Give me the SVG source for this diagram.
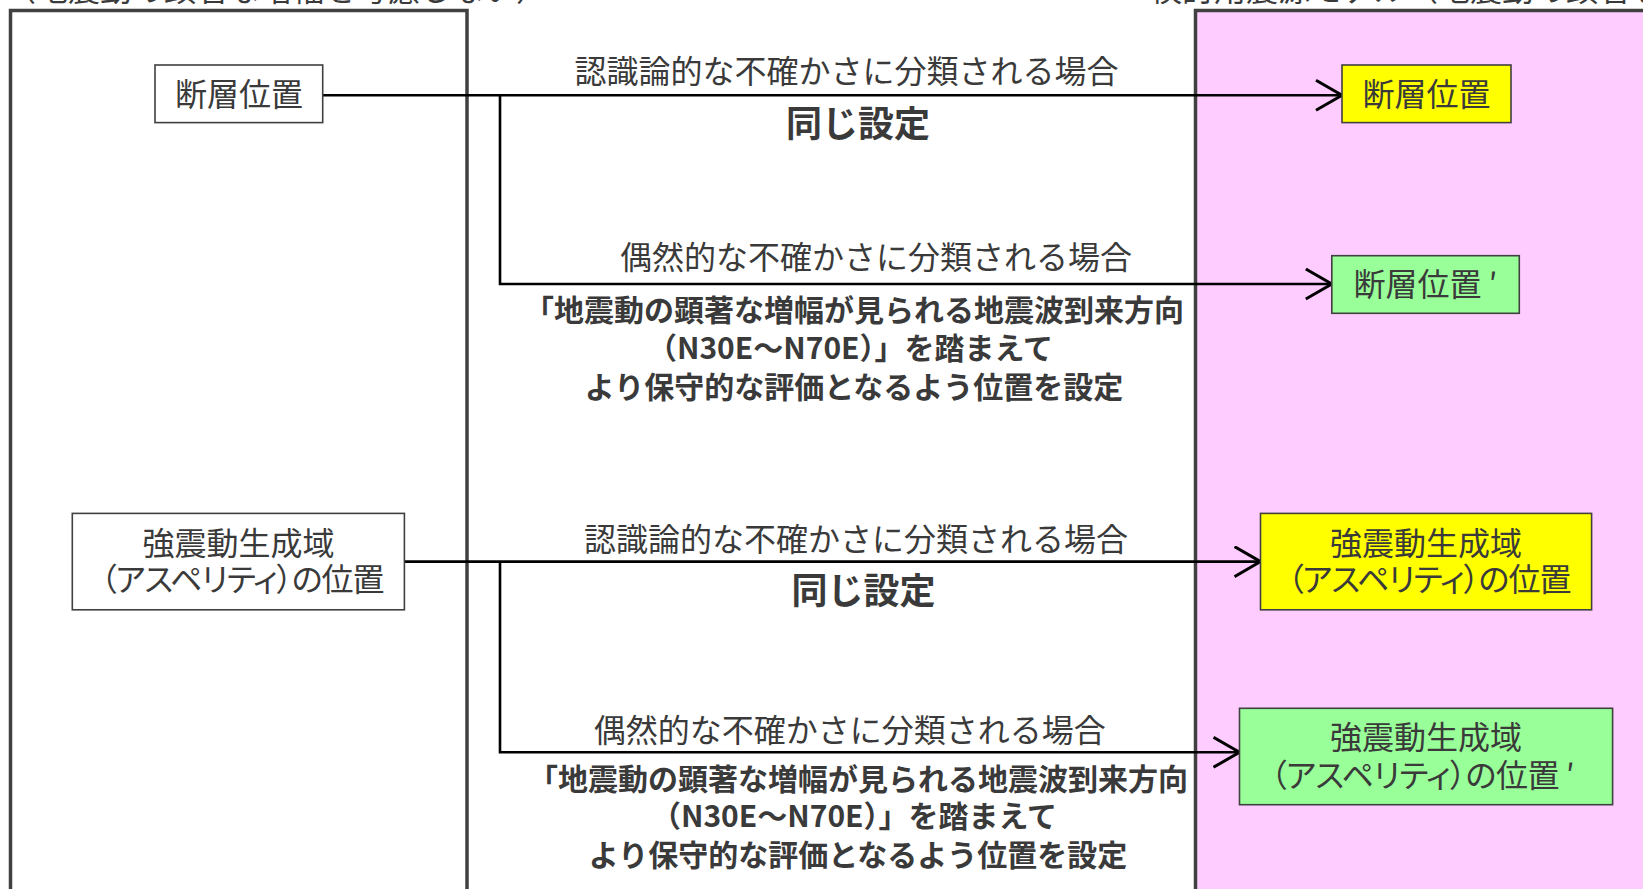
<svg xmlns="http://www.w3.org/2000/svg" width="1643" height="889" viewBox="0 0 1643 889">
<defs>
<style>
text{font-family:"Noto Sans CJK JP","Noto Sans",sans-serif;fill:#3a3a3a}
.r{font-size:32px;text-anchor:middle}
.p{font-feature-settings:"palt"}
.b{font-size:30px;font-weight:bold;text-anchor:middle}
.bb{font-size:36px;font-weight:bold;text-anchor:middle}
.t{font-size:32px}
.panel{stroke:#404040;stroke-width:3.5}
.box{stroke:#404040;stroke-width:1.6}
.c{fill:none;stroke:#000;stroke-width:2.6}
</style>
<marker id="arr" markerWidth="30" markerHeight="34" refX="27" refY="16" orient="auto" markerUnits="userSpaceOnUse">
<path d="M1,1 L27,16 L1,31" fill="none" stroke="#000" stroke-width="3"/>
</marker>
</defs>
<rect width="1643" height="889" fill="#fff"/>
<g id="panel-left">
<rect class="panel" x="10.5" y="10.5" width="456.5" height="900" fill="#fff"/>
<text class="t" x="548" y="1" text-anchor="end">基本震源モデル（地震動の顕著な増幅を考慮しない）</text>
</g>
<g id="panel-right">
<rect class="panel" x="1195.5" y="10.5" width="500" height="900" fill="#ffccff"/>
<text class="t" x="1150" y="1">検討用震源モデル（地震動の顕著な増幅を考慮）</text>
</g>
<g id="connectors">
<path class="c" d="M322.7,95.3 H1342" marker-end="url(#arr)"/>
<path class="c" d="M500,95.3 V284 H1331.8" marker-end="url(#arr)"/>
<path class="c" d="M404.4,561.6 H1260.5" marker-end="url(#arr)"/>
<path class="c" d="M500,561.6 V752.3 H1239.5" marker-end="url(#arr)"/>
</g>
<g id="labels">
<text class="r" x="846.6" y="82.8">認識論的な不確かさに分類される場合</text>
<text class="bb" x="858" y="137">同じ設定</text>
<text class="r" x="876" y="268.5">偶然的な不確かさに分類される場合</text>
<text class="b" x="854" y="321">「地震動の顕著な増幅が見られる地震波到来方向</text>
<text class="b" x="850" y="359">（N30E～N70E）」を踏まえて</text>
<text class="b" x="854" y="397.6">より保守的な評価となるよう位置を設定</text>
<text class="r" x="856" y="551.4">認識論的な不確かさに分類される場合</text>
<text class="bb" x="863.4" y="604.3">同じ設定</text>
<text class="r" x="849.8" y="742.1">偶然的な不確かさに分類される場合</text>
<text class="b" x="858" y="789.6">「地震動の顕著な増幅が見られる地震波到来方向</text>
<text class="b" x="854" y="827.3">（N30E～N70E）」を踏まえて</text>
<text class="b" x="858" y="866">より保守的な評価となるよう位置を設定</text>
</g>
<g id="node-fault-base">
<rect class="box" x="155" y="65" width="167.7" height="57.6" fill="#fff"/>
<text class="r" x="239" y="106">断層位置</text>
</g>
<g id="node-fault-same">
<rect class="box" x="1342" y="65" width="169" height="57.6" fill="#ffff00"/>
<text class="r" x="1426.5" y="106">断層位置</text>
</g>
<g id="node-fault-prime">
<rect class="box" x="1331.8" y="255.7" width="187.5" height="57.6" fill="#99ff99"/>
<text class="r" x="1425.5" y="296">断層位置 ′</text>
</g>
<g id="node-asp-base">
<rect class="box" x="72.3" y="513.4" width="332.1" height="96.4" fill="#fff"/>
<text class="r" x="238.4" y="554.6">強震動生成域</text>
<text class="r p" x="242.6" y="591.2" textLength="284" lengthAdjust="spacing">（アスペリティ）の位置</text>
</g>
<g id="node-asp-same">
<rect class="box" x="1260.5" y="513.4" width="331.1" height="96.4" fill="#ffff00"/>
<text class="r" x="1426" y="554.6">強震動生成域</text>
<text class="r p" x="1429.5" y="591.2" textLength="284" lengthAdjust="spacing">（アスペリティ）の位置</text>
</g>
<g id="node-asp-prime">
<rect class="box" x="1239.5" y="708.3" width="373.1" height="96.4" fill="#99ff99"/>
<text class="r" x="1426" y="749.4">強震動生成域</text>
<text class="r p" x="1422.6" y="787.2" textLength="304" lengthAdjust="spacing">（アスペリティ）の位置 ′</text>
</g>
</svg>
